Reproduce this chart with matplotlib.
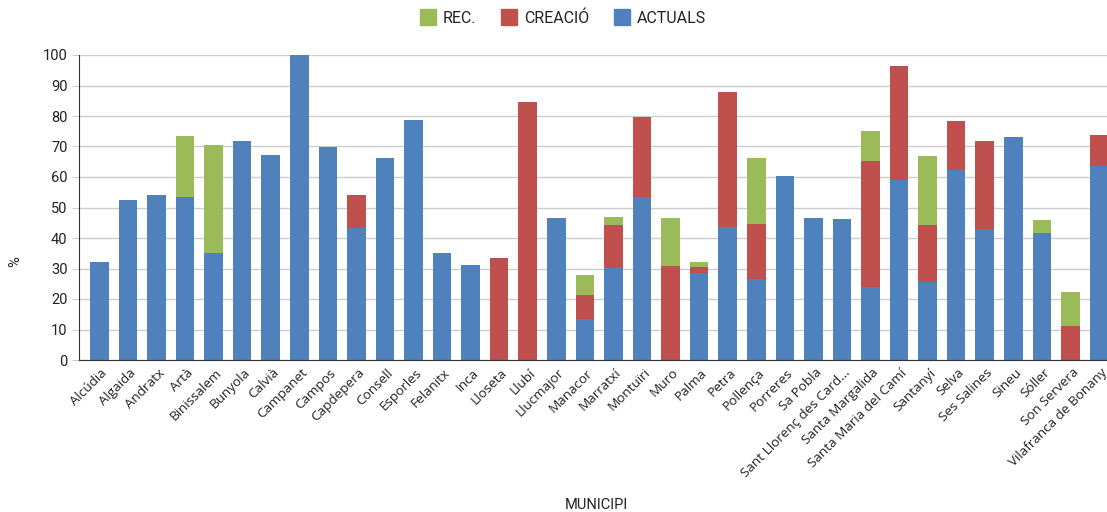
import matplotlib
matplotlib.use("Agg")
import matplotlib.pyplot as plt
from matplotlib.lines import Line2D
from matplotlib.transforms import ScaledTranslation
import numpy as np

municipis = ["Alcúdia", "Algaida", "Andratx", "Artà", "Binissalem", "Bunyola", "Calvià",
             "Campanet", "Campos", "Capdepera", "Consell", "Esporles", "Felanitx", "Inca",
             "Lloseta", "Llubí", "Llucmajor", "Manacor", "Marratxí", "Montuïri", "Muro",
             "Palma", "Petra", "Pollença", "Porreres", "Sa Pobla", "Sant Llorenç des Card...",
             "Santa Margalida", "Santa Maria del Camí", "Santanyí", "Selva", "Ses Salines",
             "Sineu", "Sóller", "Son Servera", "Vilafranca de Bonany"]

actuals = [32.2, 52.4, 54.0, 53.6, 35.1, 71.7, 67.2, 100.0, 69.8, 43.3, 66.3, 78.7, 35.0, 31.3,
           0.0, 0.0, 46.6, 13.5, 30.2, 53.6, 0.0, 28.4, 43.6, 26.5, 60.2, 46.6, 46.1,
           23.9, 59.0, 25.6, 62.3, 42.8, 73.0, 41.6, 0.0, 63.5]
creacio = [0.0, 0.0, 0.0, 0.0, 0.0, 0.0, 0.0, 0.0, 0.0, 10.7, 0.0, 0.0, 0.0, 0.0,
           33.3, 84.5, 0.0, 7.8, 14.0, 26.0, 30.9, 2.1, 44.3, 18.1, 0.0, 0.0, 0.0,
           41.2, 37.5, 18.6, 16.1, 28.9, 0.0, 0.0, 11.1, 10.3]
rec = [0.0, 0.0, 0.0, 19.7, 35.3, 0.0, 0.0, 0.0, 0.0, 0.0, 0.0, 0.0, 0.0, 0.0,
       0.0, 0.0, 0.0, 6.7, 2.8, 0.0, 15.5, 1.6, 0.0, 21.7, 0.0, 0.0, 0.0,
       9.9, 0.0, 22.6, 0.0, 0.0, 0.0, 4.2, 11.1, 0.0]

c_act = "#4f81bd"
c_cre = "#c0504d"
c_rec = "#9bbb59"

W, H = 1107, 512
fig = plt.figure(figsize=(W / 100, H / 100), dpi=100)
ax = fig.add_axes([78.6 / W, 1 - 360 / H, 1 - 78.6 / W, (360 - 55) / H])

x = np.arange(len(municipis))
a = np.array(actuals)
c = np.array(creacio)
r = np.array(rec)
bw = 0.65
ax.bar(x, a, bw, color=c_act, zorder=3)
ax.bar(x, c, bw, bottom=a, color=c_cre, zorder=3)
ax.bar(x, r, bw, bottom=a + c, color=c_rec, zorder=3)

ax.set_xlim(-0.725, 35.28)
ax.set_ylim(0, 100)
ax.set_yticks(range(0, 101, 10))
ax.yaxis.grid(True, color="#cccccc", linewidth=1, zorder=0)
ax.set_axisbelow(True)
for s in ["top", "right"]:
    ax.spines[s].set_visible(False)
ax.spines["left"].set_color("#333333")
ax.spines["bottom"].set_color("#333333")
ax.spines["bottom"].set_zorder(4)
ax.tick_params(axis="y", length=5, color="#cccccc", labelsize=10.5, labelcolor="#222222", pad=3)
ax.tick_params(axis="x", length=0, pad=7)
for t in ax.get_yticklabels():
    t.set_fontfamily("Roboto")

ax.set_xticks(x)
ax.set_xticklabels(municipis, rotation=45, ha="right", va="center", rotation_mode="anchor",
                   fontsize=9.7, fontfamily="Open Sans", color="#222222")
offset = ScaledTranslation(6 / 100, -1 / 100, fig.dpi_scale_trans)
for t in ax.get_xticklabels():
    t.set_transform(t.get_transform() + offset)

fig.text(596 / W, 1 - 505 / H, "MUNICIPI", ha="center", va="center", fontsize=10.5,
         fontfamily="Roboto", color="#222222")
fig.text(15 / W, 1 - 262 / H, "%", ha="center", va="center", rotation=90, fontsize=10.5,
         fontfamily="Roboto", color="#222222")

handles = [Line2D([], [], marker="s", linestyle="none", markersize=11, color=col)
           for col in (c_rec, c_cre, c_act)]
leg = fig.legend(handles, ["REC.", "CREACIÓ", "ACTUALS"], loc="center",
                 bbox_to_anchor=(563 / W, 1 - 18 / H), ncol=3, frameon=False,
                 prop={"family": "Roboto", "size": 11.5}, handletextpad=0.4,
                 columnspacing=1.6, handlelength=1.0)
for t in leg.get_texts():
    t.set_color("#222222")

fig.savefig("out.png", dpi=100)
